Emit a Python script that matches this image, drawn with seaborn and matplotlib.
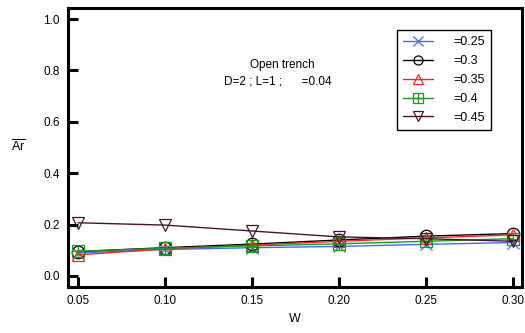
import matplotlib
matplotlib.use("Agg")
import matplotlib.pyplot as plt
import seaborn as sns
from matplotlib.lines import Line2D

# data
w = [0.05, 0.10, 0.15, 0.20, 0.25, 0.30]
ar_025 = [0.090, 0.103, 0.110, 0.115, 0.123, 0.130]
ar_030 = [0.095, 0.110, 0.124, 0.140, 0.155, 0.165]
ar_035 = [0.082, 0.105, 0.120, 0.135, 0.148, 0.160]
ar_040 = [0.096, 0.108, 0.117, 0.125, 0.135, 0.145]
ar_045 = [0.207, 0.198, 0.175, 0.152, 0.145, 0.135]
labels = ["=0.25", "=0.3", "=0.35", "=0.4", "=0.45"]

sns.set_style("ticks")
plt.rcParams["font.family"] = ["Liberation Sans", "DejaVu Sans"]
plt.rcParams["mathtext.fontset"] = "custom"
plt.rcParams["mathtext.rm"] = "Liberation Sans"
plt.rcParams["text.color"] = "black"
plt.rcParams["axes.labelcolor"] = "black"
plt.rcParams["axes.edgecolor"] = "black"
plt.rcParams["xtick.color"] = "black"
plt.rcParams["ytick.color"] = "black"

fig = plt.figure(figsize=(5.25, 3.33), dpi=100)
ax = fig.add_axes([68/525, 1-287/333, (522-68)/525, (287-8)/333])

series = [
    (ar_025, "#3a6cff", "x"),
    (ar_030, "black", "o"),
    (ar_035, "#ff2020", "^"),
    (ar_040, "#1a9a1a", "s"),
    (ar_045, "#4a1428", "v"),
]
handles = []
for (vals, c, m), lab in zip(series, labels):
    sns.lineplot(x=w, y=vals, color=c, marker=m, markersize=9, linewidth=1,
                 markerfacecolor="none", markeredgecolor=c, markeredgewidth=0.9,
                 ax=ax, legend=False)
    h = Line2D([], [], color=c, marker=m, markersize=6.5, linewidth=1,
               markerfacecolor="none", markeredgecolor=c, markeredgewidth=0.9)
    if m == "s":
        ax.plot(w, vals, linestyle="none", marker="+", markersize=9,
                color=c, markeredgewidth=0.9)
        h = (h, Line2D([], [], linestyle="none", marker="+", markersize=6.5,
                       color=c, markeredgewidth=0.9))
    handles.append(h)

ax.set_xlim(0.0443, 0.3052)
ax.set_ylim(-0.043, 1.043)
ax.set_xticks(w)
ax.set_xticklabels(["0.05", "0.10", "0.15", "0.20", "0.25", "0.30"])
ax.set_yticks([0.0, 0.2, 0.4, 0.6, 0.8, 1.0])
ax.set_yticklabels(["0.0", "0.2", "0.4", "0.6", "0.8", "1.0"])
ax.tick_params(direction="in", length=7, width=2.2, labelsize=8.5, pad=6)
for s in ax.spines.values():
    s.set_linewidth(2.2)
    s.set_visible(True)

ax.set_xlabel("W", fontsize=9, labelpad=4)
fig.text(18/525, 1-147/333, r"$\overline{\mathrm{Ar}}$", fontsize=9,
         ha="center", va="center")

fig.text(282/525, 1-65/333, "Open trench", fontsize=8.5, ha="center", va="center")
fig.text(224/525, 1-82/333, "D=2 ; L=1 ;      =0.04", fontsize=8.5,
         ha="left", va="center")

leg = ax.legend(handles, labels, loc="upper left",
                bbox_to_anchor=(397/525, 1-30/333), bbox_transform=fig.transFigure,
                borderaxespad=0, fancybox=False, frameon=True, fontsize=9,
                handlelength=2.4, handletextpad=1.6, labelspacing=0.55,
                borderpad=0.5)
leg.get_frame().set_edgecolor("black")
leg.get_frame().set_linewidth(1.0)
leg.get_frame().set_alpha(1)

fig.savefig("out.png", dpi=100)
